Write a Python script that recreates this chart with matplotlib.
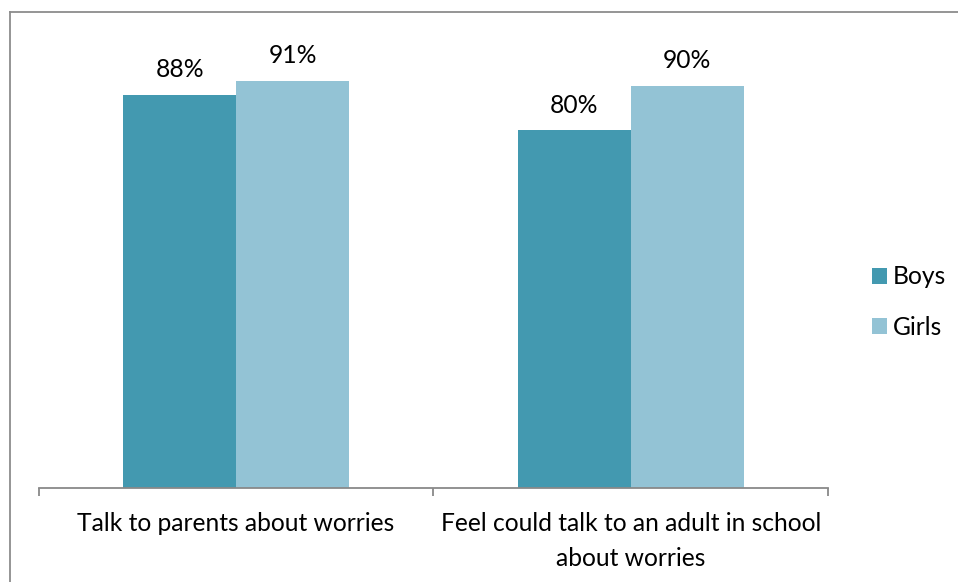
import matplotlib
matplotlib.use("Agg")
import matplotlib.pyplot as plt
from matplotlib.lines import Line2D
import numpy as np

categories = ["Talk to parents about worries",
              "Feel could talk to an adult in school\nabout worries"]
series_names = ["Boys", "Girls"]
boys = [88, 80]
girls = [91, 90]
colors = ["#4399B0", "#93C3D5"]

plt.rcParams["font.family"] = ["Lato", "DejaVu Sans"]
FS = 17.7

W, H = 958, 582
fig = plt.figure(figsize=(W / 100, H / 100), dpi=100)
ax = fig.add_axes([38.7 / W, 1 - 488.3 / H, (828.3 - 38.7) / W, (488.3 - 41) / H])

x = np.arange(len(categories))
bw = 0.286
for k, (name, vals) in enumerate(zip(series_names, [boys, girls])):
    pos = x + (k - 0.5) * bw
    bars = ax.bar(pos, vals, width=bw, color=colors[k], label=name, zorder=2)
    for b, v in zip(bars, vals):
        ax.annotate(f"{v}%", (b.get_x() + b.get_width() / 2, v),
                    xytext=(0, 10), textcoords="offset points",
                    ha="center", va="bottom", fontsize=FS, color="#000000")

ax.set_xlim(-0.5, len(categories) - 0.5)
ax.set_ylim(0, 100)
ax.set_yticks([])
for s in ["top", "right", "left"]:
    ax.spines[s].set_visible(False)
ax.spines["bottom"].set_color("#898989")
ax.spines["bottom"].set_linewidth(1.3)

ax.set_xticks(x)
ax.set_xticklabels(categories, fontsize=FS, linespacing=1.62, va="top")
ax.tick_params(axis="x", which="major", length=0, pad=17)
ax.set_xticks(np.arange(len(categories) + 1) - 0.5, minor=True)
ax.tick_params(axis="x", which="minor", length=6, width=1.3, color="#898989",
               direction="out")

leg = ax.legend(loc="center left", bbox_to_anchor=(862 / W, 1 - 302 / H),
                bbox_transform=fig.transFigure, frameon=False, fontsize=FS,
                handlelength=0.6, handleheight=0.6, handletextpad=0.25,
                labelspacing=1.1, borderaxespad=0)

# frame lines along the top and left edges of the figure
fig.add_artist(Line2D([10 / W, 1], [1 - 12 / H, 1 - 12 / H],
                      transform=fig.transFigure, color="#8C8C8C", lw=1.3))
fig.add_artist(Line2D([10 / W, 10 / W], [0, 1 - 12 / H],
                      transform=fig.transFigure, color="#8C8C8C", lw=1.3))

fig.savefig("out.png", dpi=100)
